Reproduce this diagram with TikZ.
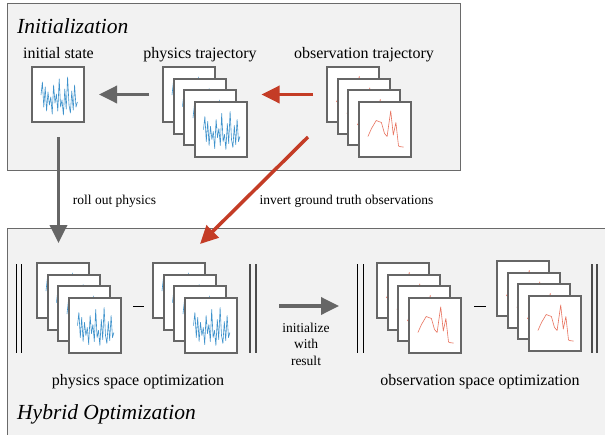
\documentclass[tikz,border=0pt]{standalone}
\usepackage{fontspec}
\setmainfont{Liberation Serif}
\usetikzlibrary{arrows.meta,calc}
\definecolor{boxfill}{HTML}{F2F2F2}
\definecolor{boxline}{HTML}{6A6A6A}
\definecolor{framec}{HTML}{666666}
\definecolor{arrg}{HTML}{666666}
\definecolor{arrr}{HTML}{C43C26}
\definecolor{sigb}{HTML}{3E92CC}
\definecolor{sigr}{HTML}{E8735F}
\tikzset{
  fr/.style={draw=framec, line width=2pt, fill=white, minimum width=52pt, minimum height=55pt, inner sep=0pt, outer sep=0pt, anchor=north west},
  bsig/.style={sigb, line width=0.6pt, line join=round},
  rsig/.style={sigr, line width=0.6pt, line join=round},
  garrow/.style={draw=arrg, line width=3.5pt, -{Triangle[length=18pt,width=17pt]}},
  rarrow/.style={draw=arrr, line width=3.5pt, -{Triangle[length=18pt,width=17pt]}},
  lbl/.style={font=\fontsize{16}{19}\selectfont, inner sep=0pt, anchor=base},
  smalllbl/.style={font=\fontsize{13.5}{16.5}\selectfont, inner sep=0pt, anchor=base},
  titlelbl/.style={font=\fontsize{21.5}{25}\selectfont\itshape, inner sep=0pt, anchor=base west},
  box/.style={draw=boxline, fill=boxfill, line width=1pt},
  barl/.style={draw=black, line width=1pt},
  barr/.style={draw=black!70, line width=1.5pt},
  minusl/.style={draw=black, line width=1pt}
}
\newcommand\bluepath{plot coordinates {(9,28)(10.4,15)(11.8,40)(13.2,20)(14.6,44)(16,25)(17.4,38)(18.8,30)(20.2,47)(21.6,18)(23,36)(24.4,27)(25.8,44)(27.2,12)(28.6,40)(30,33)(31.4,48)(32.8,22)(34.2,42)(35.6,10)(37,38)(38.4,46)(39.8,24)(41.2,43)(42.6,18)(44,40)(45.4,35)}}
\newcommand\redpath{plot coordinates {(9.4,35)(13,27)(17.7,19)(22.9,21)(26,32)(28.6,35)(32.2,9.4)(34.8,33.5)(37.4,21)(40,44.5)(42,45.2)(45.2,45.6)}}
\newcommand\bframe[3]{\node[fr] (#1) at (#2,#3) {}; \draw[bsig, shift={(#1.north west)}] \bluepath;}
\newcommand\rframe[3]{\node[fr] (#1) at (#2,#3) {}; \draw[rsig, shift={(#1.north west)}] \redpath;}
\newcommand\stack[4]{%
  \csname #4frame\endcsname{#1a}{#2}{#3}%
  \csname #4frame\endcsname{#1b}{#2+10.5}{#3+11.5}%
  \csname #4frame\endcsname{#1c}{#2+21}{#3+23}%
  \csname #4frame\endcsname{#1d}{#2+31.5}{#3+34.5}}
\begin{document}
\begin{tikzpicture}[x=1pt,y=-1pt]
\useasboundingbox (0,0) rectangle (605,434);
\clip (0,0) rectangle (605,434);
\fill[white] (0,0) rectangle (605,434);
% boxes
\draw[box] (7,3) rectangle (460,170);
\draw[box] (7,228) rectangle (620,450);
\node[titlelbl] (tinit) at (17,33) {Initialization};
\node[titlelbl] (thyb) at (17,419) {Hybrid Optimization};
% top row
\node[lbl] (lis) at (58.5,58) {initial state};
\node[lbl] (lpt) at (200,58) {physics trajectory};
\node[lbl] (lot) at (364,58) {observation trajectory};
\bframe{is}{32}{67}
\stack{pt}{163}{67}{b}
\stack{ot}{327}{67}{r}
\coordinate (rt) at (ptd.east |- pta.east);
\draw[garrow] ([xshift=-14pt]pta.west) -- ([xshift=15pt]is.east);
\draw[rarrow] ([xshift=-14pt]ota.west) -- ([xshift=15pt]rt);
% connectors between boxes
\coordinate (rolls) at (58.5,137);
\coordinate (rollt) at (58.5,243);
\draw[garrow] (rolls) -- (rollt);
\coordinate (invs) at (308,137);
\coordinate (invt) at (200,244);
\draw[rarrow] (invs) -- (invt);
\node[smalllbl] (lroll) at (114.5,204) {roll out physics};
\node[smalllbl] (linv) at (346.5,204) {invert ground truth observations};
% bottom row
\draw[barl] (16,264) -- (16,353);
\draw[barl] (21,264) -- (21,353);
\stack{psa}{37}{263}{b}
\draw[minusl] (133,306) -- (144,306);
\stack{psb}{153}{263}{b}
\draw[barr] (250,264) -- (250,353);
\draw[barr] (256,264) -- (256,353);
\coordinate (inits) at (279,306);
\coordinate (initt) at (339,306);
\draw[garrow] (inits) -- (initt);
\node[smalllbl, align=center, anchor=center] (linit) at (306,344) {initialize\\with\\result};
\draw[barl] (357,264) -- (357,353);
\draw[barl] (363,264) -- (363,353);
\stack{osa}{377}{263}{r}
\draw[minusl] (474,306) -- (486,306);
\stack{osb}{497}{261}{r}
\draw[barr] (592,264) -- (592,353);
\draw[barr] (597,264) -- (597,353);
\node[lbl] (lps) at (138,385) {physics space optimization};
\node[lbl] (los) at (480,385) {observation space optimization};
\end{tikzpicture}
\end{document}
